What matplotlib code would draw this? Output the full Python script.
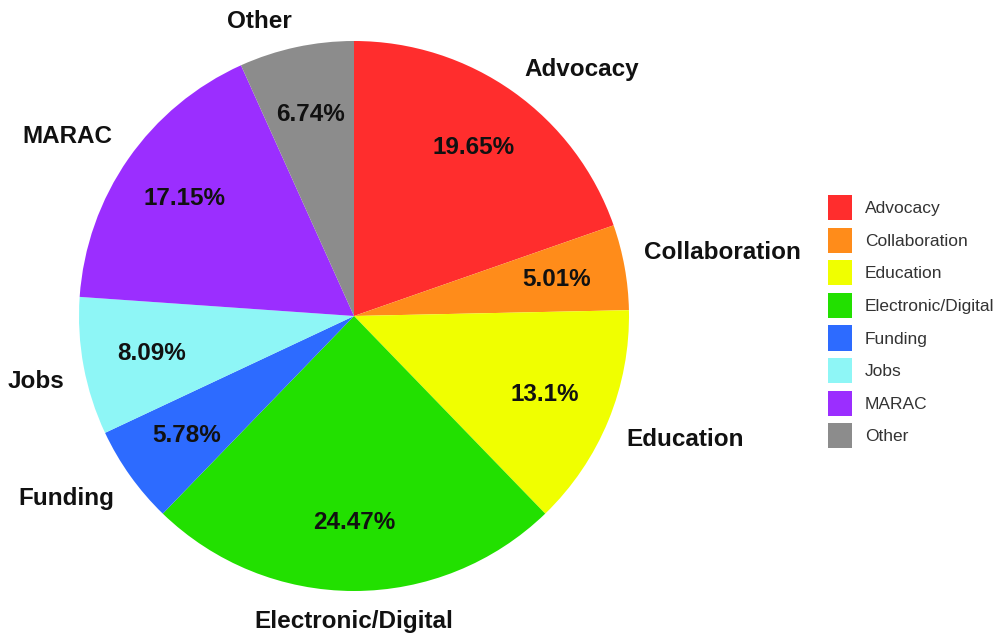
import matplotlib
matplotlib.use("Agg")
import matplotlib.pyplot as plt
from matplotlib.patches import Patch
import numpy as np

categories = ["Advocacy", "Collaboration", "Education", "Electronic/Digital",
              "Funding", "Jobs", "MARAC", "Other"]
values = [19.65, 5.01, 13.1, 24.47, 5.78, 8.09, 17.15, 6.74]
pct_labels = ["19.65%", "5.01%", "13.1%", "24.47%", "5.78%", "8.09%", "17.15%", "6.74%"]
colors = ["#FF2D2D", "#FF8C1A", "#F0FF00", "#22E000", "#2D6BFF", "#8EF6F6", "#9B2EFF", "#8C8C8C"]

plt.rcParams['font.family'] = ['Liberation Sans', 'DejaVu Sans']

W, H = 998, 633
fig = plt.figure(figsize=(W / 100, H / 100), dpi=100)
cx, cy, R = 354, 316, 275
ax = fig.add_axes([(cx - R) / W, (H - cy - R) / H, 2 * R / W, 2 * R / H])

wedges, texts = ax.pie(values, colors=colors, startangle=90, counterclock=False,
                       labels=categories, labeldistance=1.07, radius=1,
                       textprops=dict(fontsize=17.5, fontweight='bold', color='#111111'))
theta = 90 - np.cumsum([0] + values[:-1]) * 3.6 - np.array(values) * 1.8
for t, lab in zip(theta, pct_labels):
    r = 0.75
    ax.text(r * np.cos(np.radians(t)), r * np.sin(np.radians(t)), lab,
            ha='center', va='center', fontsize=17.5, fontweight='bold', color='#111111')
for t, txt in zip(theta, texts):
    s = np.sin(np.radians(t))
    if abs(np.cos(np.radians(t))) < 0.05:
        txt.set_ha('center')
    if s > 0.7:
        txt.set_va('baseline')
    elif s > 0:
        txt.set_va('bottom')
    else:
        txt.set_va('top')

ax.set_xlim(-1, 1)
ax.set_ylim(-1, 1)
ax.set_aspect('equal')
ax.axis('off')

handles = [Patch(facecolor=c, edgecolor='none') for c in colors]
fig.legend(handles, categories, loc='upper left', bbox_to_anchor=(828 / W, 1 - 195 / H),
           frameon=False, fontsize=12.5, handlelength=1.38, handleheight=1.85,
           handletextpad=0.75, labelspacing=0.43, borderpad=0, borderaxespad=0,
           labelcolor='#333333')

fig.savefig("out.png", dpi=100, facecolor='white')
